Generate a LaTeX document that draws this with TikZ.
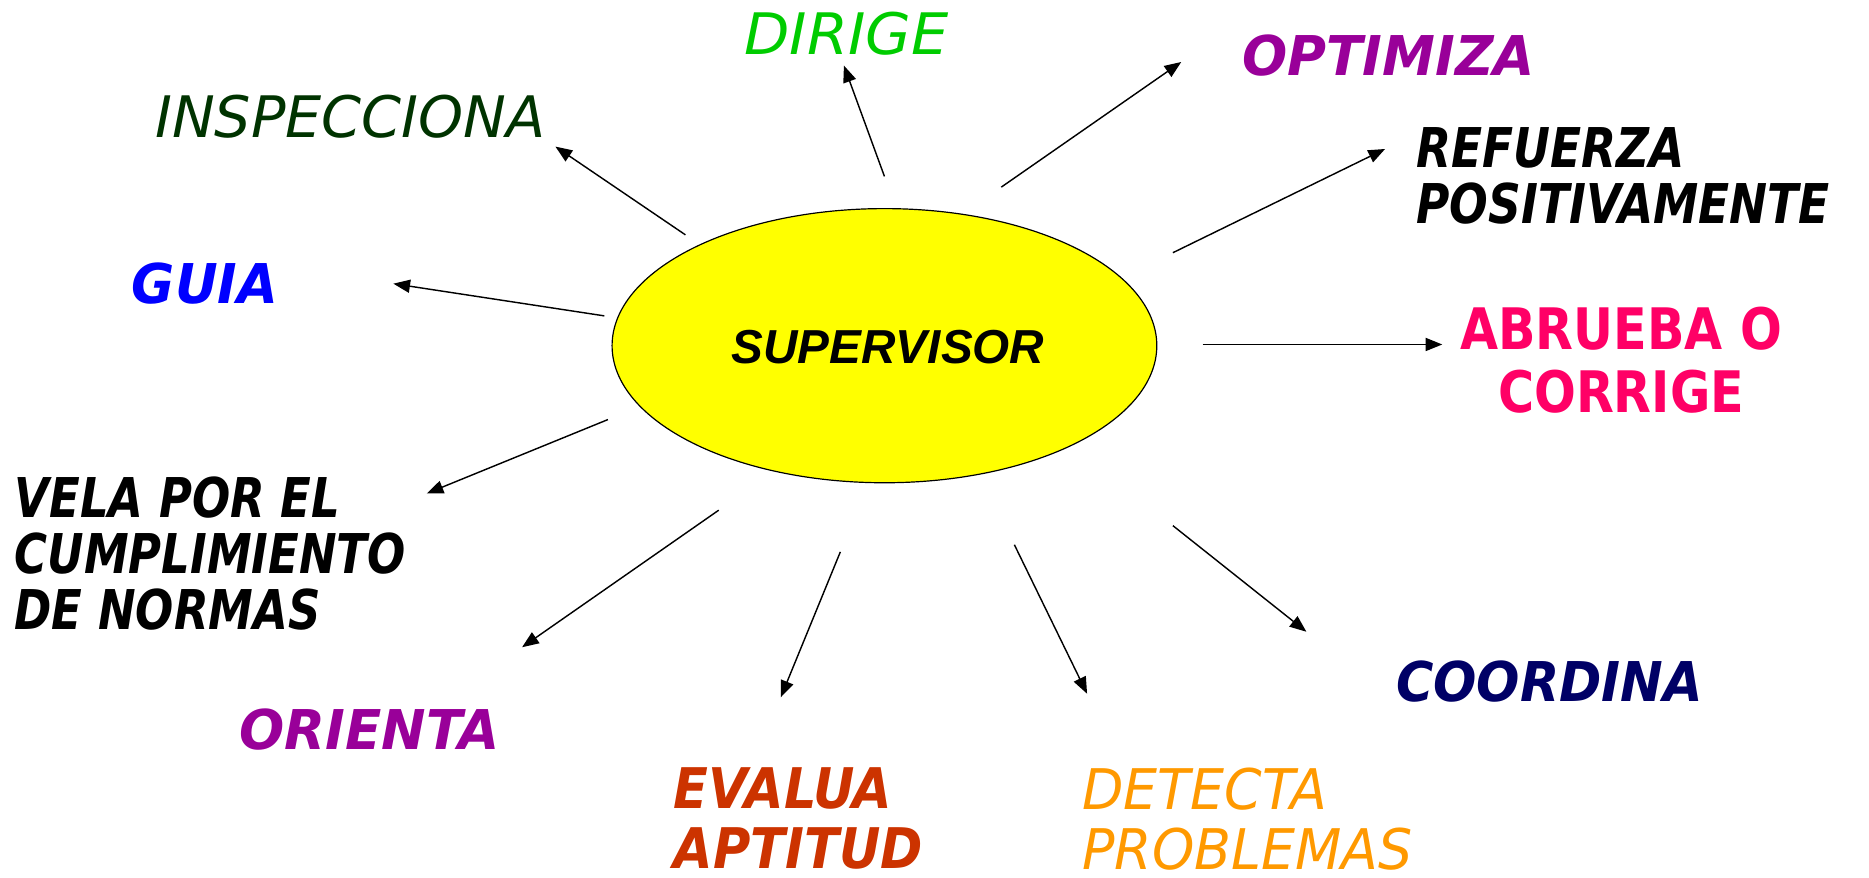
\documentclass[tikz,border=0pt]{standalone}
\usepackage{fontspec}
\setmainfont{DejaVu Sans}
\newfontfamily\arialfont{Liberation Sans}
\usetikzlibrary{arrows.meta,shapes.geometric}
\definecolor{cgreen}{RGB}{0,204,0}
\definecolor{cdkgreen}{RGB}{0,51,0}
\definecolor{cpurple}{RGB}{153,0,153}
\definecolor{cblue}{RGB}{0,0,255}
\definecolor{cpink}{RGB}{255,0,102}
\definecolor{crust}{RGB}{204,51,0}
\definecolor{corange}{RGB}{255,153,0}
\definecolor{cnavy}{RGB}{0,0,102}
\definecolor{cyellow}{RGB}{255,255,0}
\newcommand{\stretchto}[1]{\addfontfeature{FakeStretch=#1}}
\tikzset{
  lbl/.style={inner sep=0pt,font=\fontsize{48}{47}\selectfont\itshape},
  lblb/.style={inner sep=0pt,font=\fontsize{46}{47}\selectfont\bfseries\itshape\stretchto{#1}},
  lblb/.default=1,
  ray/.style={line width=1.2pt,-{Triangle[length=14pt,width=11pt]}},
}
\begin{document}
\begin{tikzpicture}[x=1pt,y=-1pt]
\useasboundingbox (0,0) rectangle (1568,736);
\node[ellipse,draw=black,line width=1pt,fill=cyellow,minimum width=457pt,minimum height=230pt,inner sep=0pt] (sup) at (742,290) {};
\node[inner sep=0pt,font=\fontsize{40}{40}\selectfont\arialfont\bfseries\itshape] (suptext) at (745,291) {SUPERVISOR};

\node[lbl,text=cgreen,font=\fontsize{48}{47}\selectfont\itshape\stretchto{1.03}] (dirige) at (710,28) {DIRIGE};
\node[lbl,text=cdkgreen] (insp) at (294,98) {INSPECCIONA};
\node[lblb=0.97,text=cpurple] (optim) at (1165,47) {OPTIMIZA};
\node[lblb=0.83,text=black,align=left,anchor=north west] (refu) at (1188,107) {REFUERZA\\POSITIVAMENTE};
\node[lblb=0.96,text=cblue] (guia) at (172,238) {GUIA};
\node[inner sep=0pt,font=\fontsize{48}{53}\selectfont\bfseries\stretchto{0.86},text=cpink,align=center,anchor=north] (abru) at (1360,257) {ABRUEBA O\\CORRIGE};
\node[lblb=0.82,text=black,align=left,anchor=north west] (vela) at (12,400) {VELA POR EL\\CUMPLIMIENTO\\DE NORMAS};
\node[lblb=0.97,text=cpurple] (orienta) at (310,612) {ORIENTA};
\node[inner sep=0pt,font=\fontsize{47}{50}\selectfont\bfseries\itshape\stretchto{0.91},text=crust,align=left,anchor=north west] (evalua) at (565,644) {EVALUA\\APTITUD};
\node[inner sep=0pt,font=\fontsize{47}{50}\selectfont\itshape\stretchto{0.96},text=corange,align=left,anchor=north west] (detecta) at (908,644) {DETECTA\\PROBLEMAS};
\node[lblb=0.93,text=cnavy] (coord) at (1300,572) {COORDINA};

\coordinate (s1) at (575,197); \coordinate (t1) at (466,123);
\coordinate (s2) at (742,148); \coordinate (t2) at (708,55);
\coordinate (s3) at (840,157); \coordinate (t3) at (991,52);
\coordinate (s4) at (984,212); \coordinate (t4) at (1162,125);
\coordinate (s5) at (507,265); \coordinate (t5) at (330,238);
\coordinate (s6) at (1009,289); \coordinate (t6) at (1210,289);
\coordinate (s7) at (510,352); \coordinate (t7) at (358,414);
\coordinate (s8) at (603,428); \coordinate (t8) at (438,543);
\coordinate (s9) at (705,463); \coordinate (t9) at (655,585);
\coordinate (s10) at (851,457); \coordinate (t10) at (912,582);
\coordinate (s11) at (984,441); \coordinate (t11) at (1096,530);
\foreach \i in {1,...,11} { \draw[ray] (s\i) -- (t\i); }
\end{tikzpicture}
\end{document}
